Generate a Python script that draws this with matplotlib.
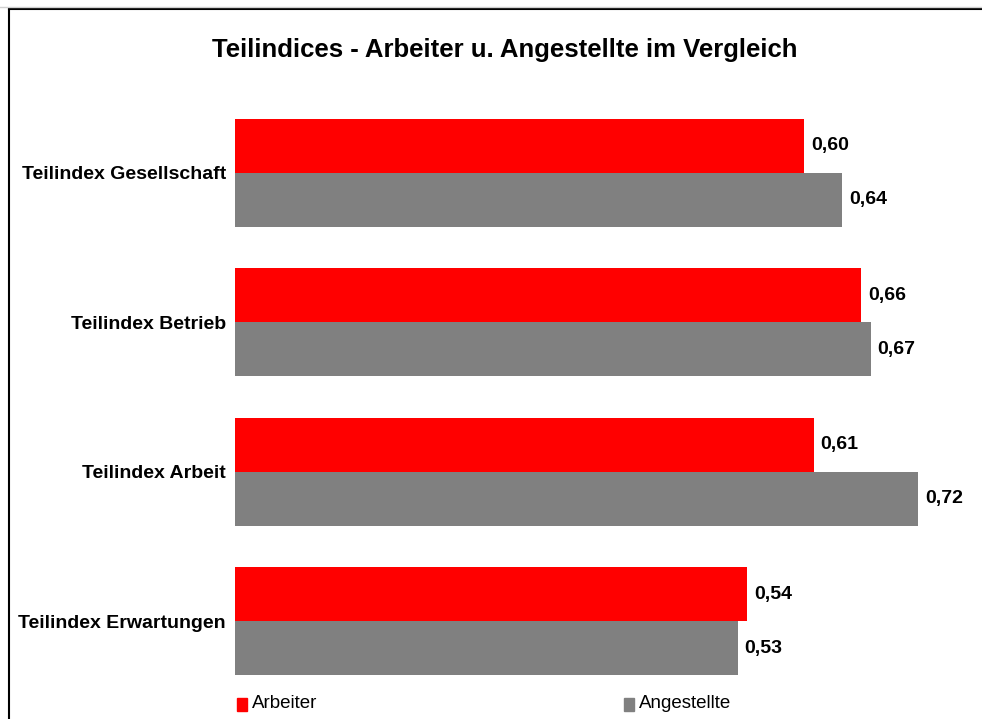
import numpy as np
import matplotlib
matplotlib.use("Agg")
from matplotlib import pyplot as plt
from matplotlib.patches import Rectangle
from matplotlib.lines import Line2D

plt.rcParams["font.family"] = ["Liberation Sans", "DejaVu Sans"]

categories = ["Teilindex Gesellschaft", "Teilindex Betrieb", "Teilindex Arbeit", "Teilindex Erwartungen"]
arbeiter = [0.60, 0.66, 0.61, 0.54]
angestellte = [0.64, 0.67, 0.72, 0.53]
series_names = ["Arbeiter", "Angestellte"]
colors = ["#ff0000", "#808080"]

W, H = 982, 719
fig = plt.figure(figsize=(W / 100, H / 100), dpi=100)

# axes placed in pixel terms: x from 235 to 918, y from 98 to 696
ax = fig.add_axes([235 / W, 1 - 696 / H, (918 - 235) / W, (696 - 98) / H])

y = np.arange(len(categories))
bh = 0.361
bars1 = ax.barh(y - bh / 2, arbeiter, height=bh, color=colors[0])
bars2 = ax.barh(y + bh / 2, angestellte, height=bh, color=colors[1])

ax.set_xlim(0, 0.72)
ax.set_ylim(len(categories) - 0.5, -0.5)
for s in ax.spines.values():
    s.set_visible(False)
ax.set_xticks([])
ax.set_yticks(y)
ax.set_yticklabels(categories, fontsize=14, fontweight="bold")
ax.tick_params(axis="y", length=0, pad=6.5)

for bars, vals in [(bars1, arbeiter), (bars2, angestellte)]:
    for b, v in zip(bars, vals):
        ax.annotate(f"{v:.2f}".replace(".", ","),
                    (b.get_width(), b.get_y() + b.get_height() / 2),
                    xytext=(5, 0), textcoords="offset points",
                    va="center", ha="left", fontsize=14, fontweight="bold",
                    annotation_clip=False)

fig.text(505 / W, 1 - 50 / H, "Teilindices - Arbeiter u. Angestellte im Vergleich",
         ha="center", va="center", fontsize=18.5, fontweight="bold")

# legend at the bottom
for x0, name, c in [(237, series_names[0], colors[0]), (624, series_names[1], colors[1])]:
    fig.patches.append(Rectangle((x0 / W, 1 - 711 / H), 10 / W, 13 / H,
                                 transform=fig.transFigure, color=c))
    fig.text((x0 + 15) / W, 1 - 704 / H, name, ha="left", va="center", fontsize=13.5)

# outer frame
fig.add_artist(Line2D([9 / W, 1], [1 - 9 / H, 1 - 9 / H], color="black", lw=1.5))
fig.add_artist(Line2D([9 / W, 9 / W], [0, 1 - 9 / H], color="black", lw=1.5))
fig.add_artist(Line2D([0, 1], [1 - 7 / H, 1 - 7 / H], color="#d0d0d0", lw=1))

plt.savefig("out.png", dpi=100)
